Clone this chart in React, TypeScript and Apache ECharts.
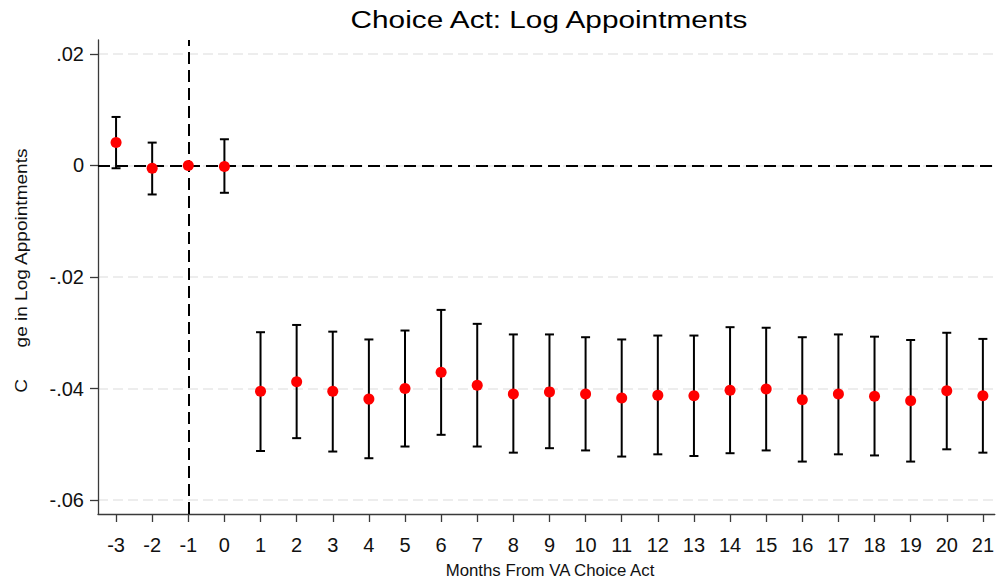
import React, { useEffect, useRef } from "react";
import * as echarts from "echarts";

const months = [-3, -2, -1, 0, 1, 2, 3, 4, 5, 6, 7, 8, 9, 10, 11, 12, 13, 14, 15, 16, 17, 18, 19, 20, 21];
const coef = [0.0041, -0.0005, 0, -0.0002, -0.0405, -0.0388, -0.0405, -0.0419, -0.04, -0.0371, -0.0394, -0.041, -0.0406, -0.041, -0.0417, -0.0412, -0.0413, -0.0403, -0.0401, -0.042, -0.041, -0.0414, -0.0422, -0.0404, -0.0413];
const ciHigh = [0.0087, 0.0041, null, 0.0047, -0.0299, -0.0286, -0.0298, -0.0312, -0.0296, -0.0259, -0.0284, -0.0303, -0.0303, -0.0308, -0.0312, -0.0305, -0.0305, -0.029, -0.0291, -0.0308, -0.0303, -0.0307, -0.0313, -0.03, -0.0311];
const ciLow = [-0.0005, -0.0052, null, -0.0049, -0.0512, -0.0489, -0.0513, -0.0525, -0.0504, -0.0483, -0.0504, -0.0515, -0.0507, -0.0511, -0.0522, -0.0518, -0.0521, -0.0516, -0.0511, -0.0531, -0.0518, -0.052, -0.0531, -0.0509, -0.0515];
const yTicks = [-0.06, -0.04, -0.02, 0, 0.02];

const titleText = "Choice Act: Log Appointments";
const xName = "Months From VA Choice Act";
const yNameA = "C";
const yNameB = "ge in Log Appointments";

function fmtY(v: number): string {
  const r = Math.round(v * 100) / 100;
  if (Math.abs(r) < 1e-9) return "0";
  return r.toFixed(2).replace("0.", ".");
}

export default function App() {
  const ref = useRef<HTMLDivElement>(null);
  useEffect(() => {
    if (!ref.current) return;
    const chart = echarts.init(ref.current, null, { renderer: "svg" });
    const points = months.map((m, i) => [m, coef[i]]);
    const bars = months
      .map((m, i) => [m, ciLow[i], ciHigh[i]])
      .filter((d) => d[1] !== null && d[2] !== null);
    const axisColor = "#3a3a3a";
    const labelFont = "Liberation Sans";
    chart.setOption({
      animation: false,
      backgroundColor: "#fff",
      grid: { left: 98, right: 0, top: 40, bottom: 69 },
      xAxis: {
        type: "value",
        min: -3.5,
        max: 21.33,
        axisLine: { show: true, onZero: false, lineStyle: { color: axisColor, width: 1.3 } },
        axisTick: { show: true, length: 8, customValues: months, lineStyle: { color: axisColor, width: 1.3 } },
        axisLabel: { customValues: months, margin: 21, fontSize: 20, fontFamily: labelFont, color: "#111" },
        splitLine: { show: false },
      },
      yAxis: {
        type: "value",
        min: -0.0625,
        max: 0.0225,
        axisLine: { show: true, onZero: false, lineStyle: { color: axisColor, width: 1.3 } },
        axisTick: { show: true, length: 8, customValues: yTicks, lineStyle: { color: axisColor, width: 1.3 } },
        axisLabel: { customValues: yTicks, margin: 14, fontSize: 20, fontFamily: labelFont, color: "#111", formatter: (v: number) => fmtY(v) },
        splitLine: { show: true, lineStyle: { color: "#e8e8e8", width: 1.5, type: [10, 5] } },
      },
      graphic: [
        { type: "text", x: 549, y: 20, scaleX: 1.24, style: { text: titleText, fontSize: 24, fontFamily: "Liberation Sans", fill: "#000", textAlign: "center", textVerticalAlign: "middle" } },
        { type: "text", x: 550, y: 570, scaleX: 1.05, style: { text: xName, fontSize: 16, fontFamily: "Liberation Sans", fill: "#111", textAlign: "center", textVerticalAlign: "middle" } },
        { type: "text", x: 22, y: 248, rotation: Math.PI / 2, scaleX: 1.19, style: { text: yNameB, fontSize: 16, fontFamily: "Liberation Sans", fill: "#111", textAlign: "center", textVerticalAlign: "middle" } },
        { type: "text", x: 22, y: 386, rotation: Math.PI / 2, scaleX: 1.19, style: { text: yNameA, fontSize: 16, fontFamily: "Liberation Sans", fill: "#111", textAlign: "center", textVerticalAlign: "middle" } },
      ],
      series: [
        {
          type: "custom",
          data: bars,
          z: 3,
          renderItem: (params: any, api: any) => {
            const x = api.value(0);
            const lo = api.value(1);
            const hi = api.value(2);
            const pTop = api.coord([x, hi]);
            const pBot = api.coord([x, lo]);
            const cap = 4.5;
            const style = { stroke: "#000", lineWidth: 2 };
            return {
              type: "group",
              children: [
                { type: "line", shape: { x1: pTop[0], y1: pTop[1], x2: pBot[0], y2: pBot[1] }, style },
                { type: "line", shape: { x1: pTop[0] - cap, y1: pTop[1], x2: pTop[0] + cap, y2: pTop[1] }, style },
                { type: "line", shape: { x1: pBot[0] - cap, y1: pBot[1], x2: pBot[0] + cap, y2: pBot[1] }, style },
              ],
            };
          },
        },
        {
          type: "scatter",
          data: points,
          symbol: "circle",
          symbolSize: 11,
          z: 5,
          itemStyle: { color: "#ff0000", opacity: 1 },
          markLine: {
            silent: true,
            symbol: ["none", "none"],
            label: { show: false },
            z: 2,
            lineStyle: { color: "#000", type: [12, 6], width: 2 },
            data: [{ yAxis: 0 }, { xAxis: -1 }],
          },
        },
      ],
    });
    return () => chart.dispose();
  }, []);
  return <div ref={ref} style={{ position: "absolute", left: 0, top: 0, width: 997, height: 583 }} />;
}
